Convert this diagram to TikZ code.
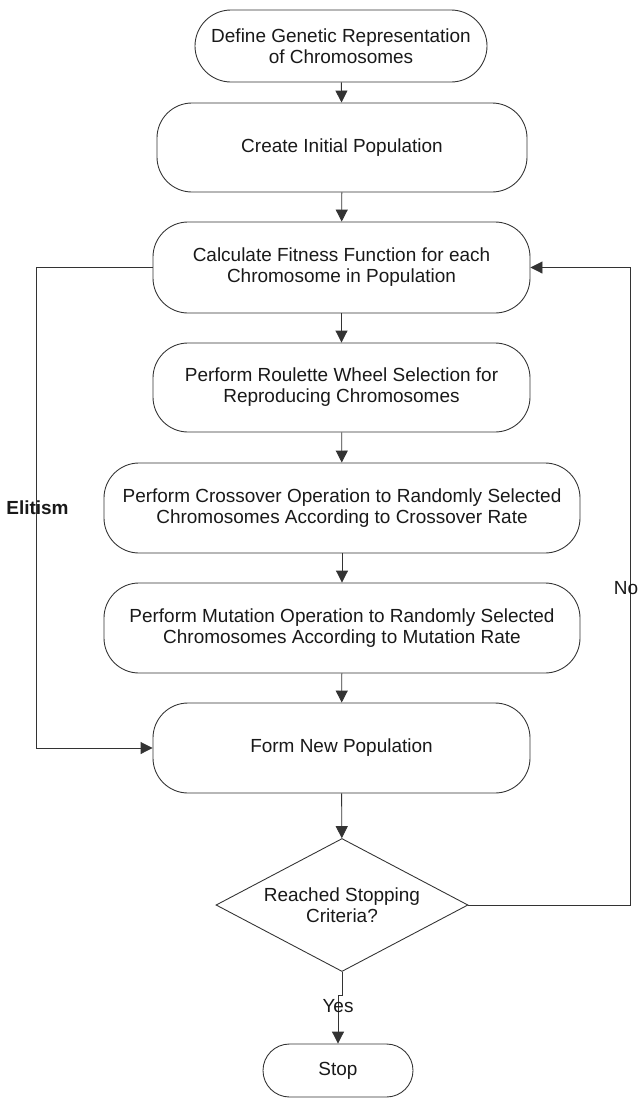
\documentclass[tikz,border=0pt]{standalone}
\usepackage{fontspec}
\setmainfont{Liberation Sans}
\usepackage{tikz}
\usetikzlibrary{arrows.meta, positioning, shapes.geometric, calc}

\begin{document}
\begin{tikzpicture}[
    font=\fontsize{10.8}{12}\selectfont,
    every node/.style={text=black!90},
    box/.style={draw=black!80, line width=0.5pt, rounded corners=0.7cm,
                align=center, inner sep=0pt},
    decision/.style={draw=black!80, line width=0.5pt, diamond, shape aspect=1.9,
                     align=center, inner sep=0pt,
                     minimum width=5.04cm, minimum height=2.66cm},
    arr/.style={draw=black!80, line width=0.5pt,
                -{Triangle[length=2.4mm, width=2.4mm]}}
  ]
  % page 640 x 1098 px, 1 px = 0.02 cm
  \useasboundingbox (0,0) rectangle (12.8,-21.96);

  % main column
  \node[box, rounded corners=0.72cm, minimum width=5.84cm, minimum height=1.44cm]
    (def) at (6.82,-0.92) {Define Genetic Representation\\of Chromosomes};
  \node[box, minimum width=7.40cm, minimum height=1.78cm]
    (init) at (6.84,-2.95) {Create Initial Population};
  \node[box, minimum width=7.54cm, minimum height=1.82cm]
    (fit) at (6.83,-5.35) {Calculate Fitness Function for each\\Chromosome in Population};
  \node[box, minimum width=7.54cm, minimum height=1.78cm]
    (sel) at (6.83,-7.75) {Perform Roulette Wheel Selection for\\Reproducing Chromosomes};
  \node[box, minimum width=9.52cm, minimum height=1.80cm]
    (cross) at (6.84,-10.16) {Perform Crossover Operation to Randomly Selected\\Chromosomes According to Crossover Rate};
  \node[box, minimum width=9.52cm, minimum height=1.80cm]
    (mut) at (6.84,-12.56) {Perform Mutation Operation to Randomly Selected\\Chromosomes According to Mutation Rate};
  \node[box, minimum width=7.54cm, minimum height=1.80cm]
    (form) at (6.83,-14.96) {Form New Population};
  \node[decision] (dec) at (6.84,-18.10) {Reached Stopping\\Criteria?};
  \node[box, rounded corners=0.53cm, minimum width=3.0cm, minimum height=1.06cm]
    (stop) at (6.76,-21.41) {Stop};

  % straight flow
  \draw[arr] (def) -- (init);
  \draw[arr] (init) -- (fit);
  \draw[arr] (fit) -- (sel);
  \draw[arr] (sel) -- (cross);
  \draw[arr] (cross) -- (mut);
  \draw[arr] (mut) -- (form);
  \draw[arr] (form) -- (dec);
  \draw[arr] (dec.south) -- ++(0,-0.46) -| (stop.north);
  \node (yes) at (6.76,-20.12) {Yes};

  % elitism loop (left)
  \draw[arr] (fit.west) -- ++(-2.32,0) |- (form.west);
  \node[font=\fontsize{10.8}{12}\selectfont\bfseries] (elit) at (0.75,-10.15) {Elitism};

  % back loop (right)
  \draw[arr] (dec.east) -- ++(3.24,0) |- (fit.east);
  \node (no) at (12.52,-11.76) {No};
\end{tikzpicture}
\end{document}
